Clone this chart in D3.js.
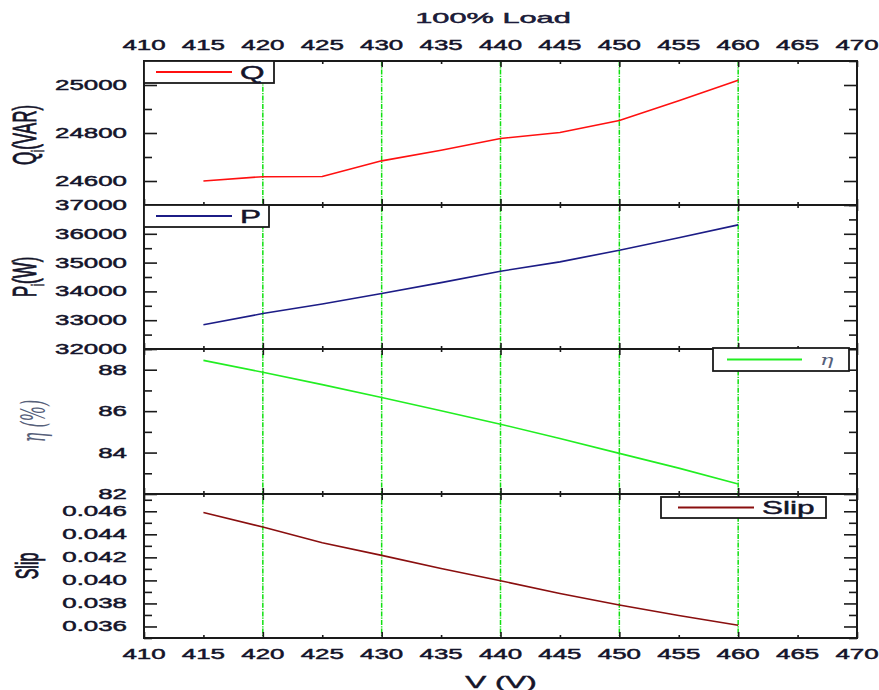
<!DOCTYPE html>
<html>
<head>
<meta charset="utf-8">
<script src="https://cdn.jsdelivr.net/npm/d3@7"></script>
<style>
  html,body{margin:0;padding:0;background:#fff;}
  svg{display:block;font-family:"Liberation Sans",Arial,sans-serif;}
  .ax path.domain{stroke:#1a1a1a;stroke-width:2px;}
  .ax line{stroke:#1a1a1a;stroke-width:1.6px;}
  .ax text{fill:#14142a;font-size:14px;font-family:"Liberation Sans",Arial,sans-serif;}
  .heavy{stroke:#14142a;stroke-width:0.45px;}
</style>
</head>
<body>
<div id="chart"></div>
<script>
// values
const voltage = [415, 420, 425, 430, 435, 440, 445, 450, 455, 460];
const reactiveQ = [24600, 24618, 24619, 24684, 24728, 24777, 24802, 24852, 24934, 25020];
const activeP = [32840, 33230, 33560, 33930, 34305, 34700, 35025, 35430, 35865, 36310];
const efficiency = [88.45, 87.88, 87.28, 86.66, 86.02, 85.37, 84.68, 83.96, 83.25, 82.48];
const slip = [0.0459, 0.04463, 0.04327, 0.04217, 0.04104, 0.03997, 0.03887, 0.03786, 0.03696, 0.0361];

const xTicks = [410, 415, 420, 425, 430, 435, 440, 445, 450, 455, 460, 465, 470];
const gridVoltages = [420, 430, 440, 450, 460];
const qMajor = [24600, 24800, 25000], qMinor = [24500, 24700, 24900, 25100];
const pMajor = [32000, 33000, 34000, 35000, 36000, 37000], pMinor = [32500, 33500, 34500, 35500, 36500];
const etaMajor = [82, 84, 86, 88], etaMinor = [83, 85, 87, 89];
const slipMajor = [0.036, 0.038, 0.040, 0.042, 0.044, 0.046], slipMinor = [0.035, 0.037, 0.039, 0.041, 0.043, 0.045, 0.047];

const W = 879, H = 690;
const L = 144, R = 857;
const SX = 1.85; // the reference text is stretched sideways

const panels = [
  { y0: 61, y1: 205, domain: [24500, 25100], major: qMajor, minor: qMinor, fmt: d3.format("d"),
    values: reactiveQ, color: "#ff1010", name: "Q",
    legend: { x: 144, y: 61, w: 130, h: 22, lx0: 156, lx1: 232, tx: 240 } },
  { y0: 205, y1: 349, domain: [32000, 37000], major: pMajor, minor: pMinor, fmt: d3.format("d"),
    values: activeP, color: "#1c1c86", name: "P",
    legend: { x: 144, y: 205, w: 125, h: 22, lx0: 156, lx1: 232, tx: 240 } },
  { y0: 349, y1: 494, domain: [82, 89], major: etaMajor, minor: etaMinor, fmt: d3.format("d"),
    values: efficiency, color: "#22ee22", name: "η",
    legend: { x: 713, y: 348, w: 136, h: 23, lx0: 727, lx1: 802, tx: 820, greek: true } },
  { y0: 494, y1: 638, domain: [0.035, 0.0475], major: slipMajor, minor: slipMinor, fmt: d3.format(".3f"),
    values: slip, color: "#8a0f0f", name: "Slip",
    legend: { x: 661, y: 497, w: 165, h: 21, lx0: 678, lx1: 754, tx: 762 } },
];

const svg = d3.select("#chart").append("svg").attr("width", W).attr("height", H);
const x = d3.scaleLinear().domain([410, 470]).range([L, R]);

// green dash-dot verticals through all panels
svg.append("g").selectAll("line").data(gridVoltages).join("line")
  .attr("x1", d => x(d)).attr("x2", d => x(d))
  .attr("y1", panels[0].y0).attr("y2", panels[3].y1)
  .attr("stroke", "#11e011").attr("stroke-width", 1.5)
  .attr("stroke-dasharray", "5,1.2,1.2,1.2");

const line = d3.line();

panels.forEach((p, i) => {
  const y = d3.scaleLinear().domain(p.domain).range([p.y1, p.y0]);

  // frame
  svg.append("rect").attr("x", L).attr("y", p.y0).attr("width", R - L).attr("height", p.y1 - p.y0)
    .attr("fill", "none").attr("stroke", "#1a1a1a").attr("stroke-width", 2);

  // y axes, ticks pointing inward
  const gl = svg.append("g").attr("class", "ax").attr("transform", `translate(${L},0)`)
    .call(d3.axisLeft(y).tickValues(p.major).tickSize(-13).tickFormat(p.fmt));
  gl.selectAll("text").attr("class", "heavy").attr("x", -17 / SX).attr("transform", `scale(${SX},1)`);
  svg.append("g").attr("class", "ax").attr("transform", `translate(${L},0)`)
    .call(d3.axisLeft(y).tickValues(p.minor).tickSize(-8).tickFormat(""));
  svg.append("g").attr("class", "ax").attr("transform", `translate(${R},0)`)
    .call(d3.axisRight(y).tickValues(p.major).tickSize(-13).tickFormat(""));
  svg.append("g").attr("class", "ax").attr("transform", `translate(${R},0)`)
    .call(d3.axisRight(y).tickValues(p.minor).tickSize(-8).tickFormat(""));

  // x ticks on top and bottom edge of every panel
  const majorX = xTicks.filter(v => v % 10 === 0), minorX = xTicks.filter(v => v % 10 !== 0);
  [[p.y0, d3.axisTop], [p.y1, d3.axisBottom]].forEach(([yy, ax]) => {
    svg.append("g").attr("class", "ax").attr("transform", `translate(0,${yy})`)
      .call(ax(x).tickValues(majorX).tickSize(-6).tickFormat(""));
    svg.append("g").attr("class", "ax").attr("transform", `translate(0,${yy})`)
      .call(ax(x).tickValues(minorX).tickSize(-3).tickFormat(""));
  });

  // data line
  svg.append("path").datum(voltage.map((v, k) => [x(v), y(p.values[k])]))
    .attr("d", line).attr("fill", "none").attr("stroke", p.color).attr("stroke-width", 1.6);
});

// domain paths from the axes are drawn over by the frames; hide them
svg.selectAll(".ax path.domain").remove();

// x tick labels, top and bottom
[50, 659].forEach(yy => {
  svg.append("g").selectAll("text").data(xTicks).join("text")
    .attr("class", "heavy")
    .attr("transform", d => `translate(${x(d)},${yy}) scale(${SX},1)`)
    .attr("text-anchor", "middle").attr("font-size", 14).attr("fill", "#14142a")
    .text(d => d);
});

// legends
panels.forEach(p => {
  const lg = p.legend;
  const g = svg.append("g");
  g.append("rect").attr("x", lg.x).attr("y", lg.y).attr("width", lg.w).attr("height", lg.h)
    .attr("fill", "#fff").attr("stroke", "#1a1a1a").attr("stroke-width", 1.8);
  const cy = lg.y + lg.h / 2;
  g.append("line").attr("x1", lg.lx0).attr("x2", lg.lx1).attr("y1", cy).attr("y2", cy)
    .attr("stroke", p.color).attr("stroke-width", 2.2);
  if (lg.greek) {
    g.append("text").attr("transform", `translate(${lg.tx},${cy + 5}) scale(1.6,1)`)
      .attr("font-family", "DejaVu Serif").attr("font-style", "italic").attr("font-size", 14)
      .attr("fill", "#56607a").text(p.name);
  } else {
    g.append("text").attr("class", "heavy").attr("transform", `translate(${lg.tx},${cy + 6.5}) scale(1.75,1)`)
      .attr("font-size", 18).attr("fill", "#14142a").text(p.name);
  }
});

// y axis titles (rotated, stretched)
function yTitle(cx, cy, sx) {
  return svg.append("text")
    .attr("transform", `translate(${cx},${cy}) scale(${sx},1) rotate(-90)`)
    .attr("text-anchor", "middle").attr("fill", "#14142a");
}
const tq = yTitle(36, 135, 2).attr("font-size", 17).attr("class", "heavy");
tq.append("tspan").text("Q");
tq.append("tspan").attr("font-size", 9).attr("dy", 4).text("i");
tq.append("tspan").attr("dy", -4).text("(VAR)");

const tp = yTitle(36, 277, 2).attr("font-size", 17).attr("class", "heavy");
tp.append("tspan").text("P");
tp.append("tspan").attr("font-size", 9).attr("dy", 4).text("i");
tp.append("tspan").attr("dy", -4).text("(W)");

yTitle(45, 421, 2.1).attr("font-size", 16).attr("font-family", "DejaVu Serif")
  .attr("font-style", "italic").attr("fill", "#56607a").text("η  (%)");

yTitle(38, 566, 2).attr("font-size", 16).attr("class", "heavy").text("Slip");

// titles
svg.append("text").attr("class", "heavy").attr("transform", `translate(493,23) scale(2.05,1)`)
  .attr("text-anchor", "middle").attr("font-size", 15).attr("fill", "#1e1e44").text("100% Load");
svg.append("text").attr("class", "heavy").attr("transform", `translate(501,688) scale(1.85,1)`)
  .attr("text-anchor", "middle").attr("font-size", 17).attr("fill", "#14142a").text("V (V)");
</script>
</body>
</html>
